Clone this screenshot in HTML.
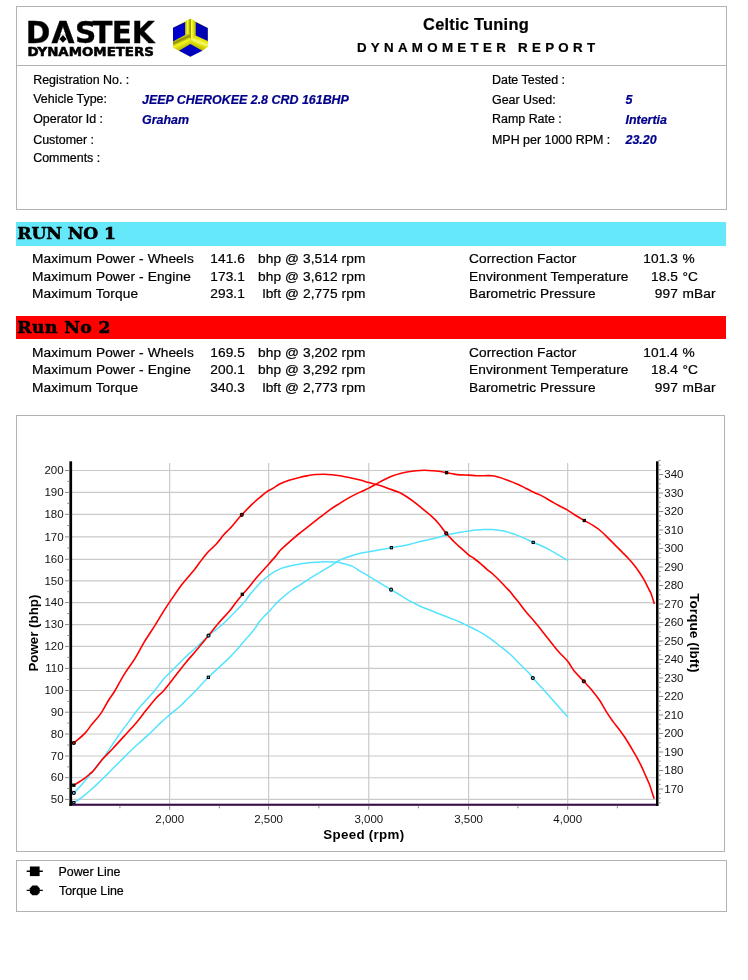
<!DOCTYPE html>
<html lang="en"><head><meta charset="utf-8"><title>Dynamometer Report</title>
<style>
html,body{margin:0;padding:0;background:#fff}
body{width:748px;height:980px;position:relative;overflow:hidden;font-family:"Liberation Sans",Arial,sans-serif;color:#000;-webkit-text-stroke:0.22px currentColor}
.box{position:absolute;box-sizing:border-box;border:1px solid #b2b2b2;background:#fff}
.hline{position:absolute;left:16px;width:711px;height:1px;background:#b2b2b2}
.logo{position:absolute;left:0;top:0}
.t1{position:absolute;left:276px;width:400px;text-align:center;top:15.0px;font-size:16.4px;letter-spacing:0.25px;font-weight:bold;line-height:18px;color:#000;white-space:nowrap}
.t2{position:absolute;left:276px;width:404.3px;text-align:center;top:40.2px;font-size:13.33px;font-weight:bold;line-height:15px;letter-spacing:4.3px;color:#000;white-space:nowrap}
.lab{position:absolute;font-size:12.45px;line-height:14px;white-space:nowrap;color:#000}
.val{position:absolute;font-size:12.45px;line-height:14px;white-space:nowrap;color:#00008b;font-weight:bold;font-style:italic}
.band{position:absolute;left:16px;width:710px;height:23.9px}
.band span{position:absolute;left:1.3px;top:1.2px;font-family:"DejaVu Serif","Liberation Serif",serif;font-weight:bold;font-size:17.2px;line-height:21px;color:#000;white-space:nowrap;letter-spacing:-0.15px;-webkit-text-stroke:0.55px #000}
.row{position:absolute;left:0;width:748px;height:16px;font-size:13.7px;line-height:16px;letter-spacing:0.1px;white-space:nowrap;color:#000}
.row span{position:absolute;top:0}
.c1{left:32px} .c2{right:503px} .c3{right:382.5px} .c4{left:469px} .c5{right:70px} .c6{left:682.5px}
.chart{position:absolute;left:0;top:410px}
.leg{position:absolute;font-size:12.4px;line-height:14px;left:58.5px;white-space:nowrap}
</style></head><body>
<div class="box" style="left:16px;top:6px;width:711px;height:204px"></div>
<div class="hline" style="top:65px"></div>
<svg class="logo" width="230" height="64" viewBox="0 0 230 64">
<defs>
<linearGradient id="gy" x1="0" x2="1" y1="0" y2="0"><stop offset="0" stop-color="#b8b800"/><stop offset="0.25" stop-color="#ffff30"/><stop offset="0.48" stop-color="#8a8a00"/><stop offset="0.6" stop-color="#ffff30"/><stop offset="1" stop-color="#c0c000"/></linearGradient>
<linearGradient id="gl" x1="0" x2="0.45" y1="0" y2="1"><stop offset="0" stop-color="#c8c800"/><stop offset="0.3" stop-color="#ffff30"/><stop offset="0.5" stop-color="#8a8a00"/><stop offset="0.65" stop-color="#f6f620"/><stop offset="1" stop-color="#b0b000"/></linearGradient>
<linearGradient id="gr" x1="1" x2="0.55" y1="0" y2="1"><stop offset="0" stop-color="#b0b000"/><stop offset="0.4" stop-color="#e8e810"/><stop offset="0.55" stop-color="#f8f870"/><stop offset="0.7" stop-color="#dcdc00"/><stop offset="1" stop-color="#a8a800"/></linearGradient>
</defs>
<g font-family="DejaVu Sans, Liberation Sans, sans-serif" font-weight="bold" fill="#000" stroke="#000" stroke-linejoin="round">
<text x="25.8 51.4 75 92.2 111.8 131.8" y="42.6" font-size="29.6" stroke-width="0.35">DASTEK</text>
<text x="27.4" y="56.3" font-size="12.6" stroke-width="0.55" textLength="126.5" lengthAdjust="spacingAndGlyphs">DYNAMOMETERS</text>
</g>
<polygon points="60.7,34.4 65.2,34.4 67.1,39.2 58.8,39.2" fill="#fff"/>
<polygon points="62.95,34.9 66.5,38.9 62.95,42.8 59.4,38.9" fill="#000"/>
<g>
<polygon points="190.4,18.7 207.8,28 207.8,46.8 190.4,56.8 173,47.4 173,27.7" fill="#e4e400"/>
<polygon points="185.3,21.4 190.4,18.7 195.6,21.5 195.6,38 190.4,41 185.3,38" fill="url(#gy)"/>
<polygon points="173,41.4 189.8,32.8 190.4,44.1 179,50.8 173,47.4" fill="url(#gl)"/>
<polygon points="195.7,35.4 207.8,41.1 207.8,46.8 202.4,50.8 190.4,44.1 190.4,38.6" fill="url(#gr)"/>
<polygon points="173,27.7 185.1,21.9 185.1,35.1 173,41.4" fill="#0000cc"/>
<polygon points="195.7,22 207.8,28 207.8,41.1 195.7,35.4" fill="#0000b4"/>
<polygon points="190.4,44.1 202.4,50.8 190.4,56.8 179,50.8" fill="#0000c0"/>
</g>
</svg>
<div class="t1">Celtic Tuning</div>
<div class="t2">DYNAMOMETER REPORT</div>
<div class="lab" style="left:33.2px;top:72.6px">Registration No. :</div>
<div class="lab" style="left:33.2px;top:92.4px">Vehicle Type:</div>
<div class="lab" style="left:33.2px;top:112.2px">Operator Id :</div>
<div class="lab" style="left:33.2px;top:133.1px">Customer :</div>
<div class="lab" style="left:33.2px;top:151.3px">Comments :</div>
<div class="val" style="left:142px;top:93.1px">JEEP CHEROKEE 2.8 CRD 161BHP</div>
<div class="val" style="left:142px;top:113.0px">Graham</div>
<div class="lab" style="left:492px;top:72.8px">Date Tested :</div>
<div class="lab" style="left:492px;top:92.5px">Gear Used:</div>
<div class="lab" style="left:492px;top:112.3px">Ramp Rate :</div>
<div class="lab" style="left:492px;top:133.1px">MPH per 1000 RPM :</div>
<div class="val" style="left:625.5px;top:92.8px">5</div>
<div class="val" style="left:625.5px;top:112.6px">Intertia</div>
<div class="val" style="left:625.5px;top:133.4px">23.20</div>
<div class="band" style="top:222px;background:#66e8fb"><span>RUN NO 1</span></div>
<div class="row" style="top:250.90px"><span class="c1">Maximum Power - Wheels</span><span class="c2">141.6</span><span class="c3">bhp @ 3,514 rpm</span></div>
<div class="row" style="top:268.55px"><span class="c1">Maximum Power - Engine</span><span class="c2">173.1</span><span class="c3">bhp @ 3,612 rpm</span></div>
<div class="row" style="top:286.20px"><span class="c1">Maximum Torque</span><span class="c2">293.1</span><span class="c3">lbft @ 2,775 rpm</span></div>
<div class="row" style="top:250.90px"><span class="c4">Correction Factor</span><span class="c5">101.3</span><span class="c6">%</span></div>
<div class="row" style="top:268.55px"><span class="c4">Environment Temperature</span><span class="c5">18.5</span><span class="c6">°C</span></div>
<div class="row" style="top:286.20px"><span class="c4">Barometric Pressure</span><span class="c5">997</span><span class="c6">mBar</span></div>
<div class="band" style="top:315.6px;background:#ff0000"><span style="letter-spacing:0.4px">Run No 2</span></div>
<div class="row" style="top:344.50px"><span class="c1">Maximum Power - Wheels</span><span class="c2">169.5</span><span class="c3">bhp @ 3,202 rpm</span></div>
<div class="row" style="top:362.15px"><span class="c1">Maximum Power - Engine</span><span class="c2">200.1</span><span class="c3">bhp @ 3,292 rpm</span></div>
<div class="row" style="top:379.80px"><span class="c1">Maximum Torque</span><span class="c2">340.3</span><span class="c3">lbft @ 2,773 rpm</span></div>
<div class="row" style="top:344.50px"><span class="c4">Correction Factor</span><span class="c5">101.4</span><span class="c6">%</span></div>
<div class="row" style="top:362.15px"><span class="c4">Environment Temperature</span><span class="c5">18.4</span><span class="c6">°C</span></div>
<div class="row" style="top:379.80px"><span class="c4">Barometric Pressure</span><span class="c5">997</span><span class="c6">mBar</span></div>
<div class="box" style="left:16px;top:415px;width:709px;height:437px"></div>
<svg class="chart" width="748" height="460" viewBox="0 410 748 460">
<path d="M72,799.40 H656 M72,777.70 H656 M72,756.00 H656 M72,734.00 H656 M72,712.20 H656 M72,690.50 H656 M72,668.40 H656 M72,646.40 H656 M72,624.60 H656 M72,602.60 H656 M72,580.80 H656 M72,559.30 H656 M72,536.90 H656 M72,514.30 H656 M72,492.40 H656 M72,470.50 H656 M169.65,463 V803.5 M268.65,463 V803.5 M368.75,463 V803.5 M468.60,463 V803.5 M567.70,463 V803.5" stroke="#c9c9c9" stroke-width="1.15" fill="none"/>
<path d="M73.8,793.1 C75.2,791.6 79.0,787.7 82.1,784.2 C85.1,780.7 88.6,776.5 92.1,772.2 C95.6,767.9 99.8,762.7 103.1,758.2 C106.4,753.7 109.2,749.3 112.1,745.1 C114.9,740.9 117.4,737.1 120.2,733.1 C123.0,729.1 126.2,725.1 129.2,721.1 C132.2,717.1 135.2,712.7 138.2,709.0 C141.2,705.3 144.4,702.2 147.2,699.0 C150.0,695.8 152.3,693.5 155.2,690.0 C158.0,686.5 161.1,681.9 164.3,678.3 C167.5,674.7 171.0,671.6 174.3,668.3 C177.6,664.9 180.6,661.7 184.3,658.2 C188.0,654.7 192.4,650.9 196.4,647.2 C200.4,643.5 205.2,638.7 208.4,635.8 C211.6,632.9 213.1,632.0 215.7,629.9 C218.2,627.8 221.0,625.7 223.7,623.2 C226.4,620.8 229.0,617.9 231.7,615.2 C234.4,612.5 237.6,609.5 239.8,607.1 C242.0,604.8 243.3,603.3 245.1,601.1 C246.9,598.9 248.7,596.0 250.5,593.8 C252.3,591.6 254.0,589.8 255.8,587.8 C257.6,585.8 259.0,583.9 261.1,581.9 C263.2,579.9 266.4,577.5 268.6,575.8 C270.8,574.1 272.4,572.9 274.5,571.7 C276.6,570.5 279.0,569.3 281.2,568.4 C283.4,567.5 285.2,567.0 287.9,566.4 C290.6,565.8 294.3,565.0 297.2,564.5 C300.1,564.0 302.8,563.6 305.0,563.3 C307.2,563.0 307.8,562.8 310.3,562.6 C312.8,562.4 316.7,562.0 320.0,561.9 C323.3,561.8 327.1,561.8 330.1,561.9 C333.1,562.0 335.4,561.9 338.1,562.3 C340.8,562.7 343.8,563.7 346.1,564.3 C348.4,564.9 349.7,565.0 352.0,566.1 C354.3,567.2 357.3,569.4 360.1,571.1 C362.9,572.8 365.4,574.1 368.7,576.1 C372.0,578.1 376.4,580.8 380.1,583.1 C383.8,585.4 387.8,587.7 391.1,589.7 C394.5,591.7 397.0,593.2 400.2,595.1 C403.4,597.0 406.9,599.4 410.2,601.2 C413.5,603.1 416.9,604.7 420.2,606.2 C423.5,607.7 426.8,608.9 430.2,610.2 C433.6,611.5 436.9,612.9 440.3,614.2 C443.7,615.5 447.0,616.9 450.3,618.2 C453.6,619.5 457.3,620.9 460.3,622.2 C463.3,623.5 465.5,624.7 468.5,626.2 C471.5,627.7 474.8,629.2 478.4,631.2 C482.0,633.2 486.4,635.8 490.0,638.3 C493.6,640.8 496.8,643.6 500.1,646.2 C503.5,648.9 506.8,651.2 510.1,654.2 C513.4,657.2 516.8,660.9 520.1,664.3 C523.5,667.6 528.1,672.0 530.2,674.3 C532.3,676.6 530.8,675.8 532.8,678.1 C534.8,680.4 539.2,684.9 542.1,688.1 C545.0,691.3 547.4,694.1 550.1,697.1 C552.8,700.1 555.2,702.8 558.1,706.1 C561.0,709.4 566.2,715.3 567.8,717.1" stroke="#55e4ff" stroke-width="1.5" fill="none" stroke-linejoin="round"/>
<path d="M73.8,802.9 C74.8,802.2 78.4,799.8 80.1,798.6 C81.8,797.4 82.1,797.2 84.1,795.6 C86.1,794.0 89.4,791.2 92.1,788.8 C94.8,786.4 97.4,783.8 100.1,781.2 C102.8,778.6 106.4,775.0 108.1,773.4 C109.8,771.8 108.1,773.3 110.1,771.3 C112.1,769.3 116.9,764.6 120.2,761.2 C123.5,757.9 126.9,754.4 130.2,751.2 C133.5,748.0 136.9,745.1 140.2,742.1 C143.5,739.1 146.8,736.3 150.2,733.1 C153.5,729.9 157.1,726.1 160.3,723.1 C163.5,720.1 166.0,718.0 169.3,715.1 C172.6,712.2 177.1,708.9 180.3,706.0 C183.5,703.1 185.6,700.7 188.3,698.0 C191.0,695.3 193.1,693.4 196.4,689.9 C199.8,686.4 203.3,682.3 208.4,677.3 C213.5,672.3 222.2,664.7 227.1,659.9 C232.0,655.1 235.1,651.6 238.1,648.3 C241.1,645.0 243.0,642.4 245.1,640.0 C247.2,637.6 248.7,636.0 250.5,633.9 C252.3,631.8 254.5,629.1 255.8,627.2 C257.1,625.4 257.2,624.5 258.5,622.8 C259.8,621.0 262.1,618.5 263.8,616.7 C265.5,614.9 266.8,613.8 268.6,611.9 C270.4,610.0 272.6,607.3 274.5,605.3 C276.4,603.3 278.1,601.6 279.9,599.9 C281.7,598.2 283.2,596.9 285.2,595.2 C287.2,593.6 289.7,591.6 291.9,590.0 C294.1,588.4 296.4,587.2 298.6,585.8 C300.8,584.4 303.1,583.0 305.0,581.7 C306.9,580.4 307.8,579.7 310.3,578.1 C312.9,576.5 317.0,574.1 320.3,572.1 C323.6,570.1 327.0,568.1 330.3,566.1 C333.6,564.1 336.8,561.5 340.1,559.9 C343.4,558.3 346.8,557.4 350.1,556.3 C353.5,555.2 357.1,554.1 360.2,553.3 C363.3,552.5 365.5,552.3 368.8,551.7 C372.1,551.1 376.4,550.4 380.2,549.7 C384.0,549.0 388.0,548.3 391.4,547.7 C394.8,547.1 397.1,546.9 400.3,546.3 C403.5,545.7 407.0,545.0 410.3,544.2 C413.6,543.4 417.0,542.4 420.3,541.6 C423.6,540.8 427.4,539.9 430.3,539.2 C433.2,538.5 435.3,538.1 438.0,537.4 C440.7,536.7 443.6,535.8 446.3,535.1 C449.0,534.5 451.5,534.0 454.1,533.5 C456.7,533.0 459.7,532.5 462.1,532.1 C464.6,531.7 466.6,531.3 468.8,531.0 C471.0,530.7 473.1,530.4 475.5,530.1 C477.9,529.9 481.1,529.6 483.5,529.5 C485.9,529.4 488.0,529.4 490.2,529.5 C492.4,529.6 494.6,529.6 496.8,529.9 C499.0,530.2 501.3,530.6 503.5,531.1 C505.7,531.6 508.0,532.2 510.2,532.9 C512.4,533.6 514.7,534.3 516.9,535.1 C519.1,535.9 521.4,536.9 523.6,537.9 C525.8,538.9 528.4,540.2 530.0,541.0 C531.6,541.8 531.2,541.5 533.2,542.4 C535.2,543.3 539.4,545.0 542.3,546.3 C545.1,547.6 547.6,548.9 550.3,550.3 C553.0,551.7 555.4,553.2 558.3,554.9 C561.2,556.6 566.0,559.4 567.6,560.3" stroke="#55e4ff" stroke-width="1.5" fill="none" stroke-linejoin="round"/>
<path d="M73.8,743.1 C75.7,741.4 82.0,736.3 85.1,733.1 C88.1,729.9 89.4,727.4 92.1,724.1 C94.8,720.8 98.4,717.0 101.1,713.1 C103.8,709.2 105.8,704.8 108.1,701.0 C110.4,697.2 112.4,695.0 115.1,690.5 C117.8,686.0 120.9,679.7 124.2,674.3 C127.5,668.9 131.9,663.6 135.2,658.2 C138.5,652.9 140.9,647.7 144.2,642.2 C147.5,636.7 151.8,630.5 155.2,625.1 C158.5,619.8 161.5,614.6 164.3,610.1 C167.2,605.6 169.3,602.5 172.3,598.1 C175.3,593.8 178.7,588.7 182.3,584.0 C186.0,579.3 191.2,573.6 194.2,570.0 C197.1,566.4 198.0,564.7 200.0,562.1 C202.0,559.5 204.4,556.3 206.1,554.3 C207.8,552.3 208.3,551.7 210.0,550.0 C211.7,548.3 213.7,546.8 216.1,544.2 C218.5,541.6 221.8,536.9 224.2,534.2 C226.5,531.5 227.3,531.4 230.2,528.2 C233.1,525.0 238.1,518.8 241.8,514.8 C245.5,510.8 249.1,507.1 252.2,504.1 C255.3,501.2 257.9,499.1 260.3,497.1 C262.7,495.1 264.1,493.6 266.3,492.1 C268.5,490.6 271.0,489.5 273.3,488.1 C275.6,486.7 277.8,485.0 280.3,483.7 C282.8,482.4 285.3,481.5 288.3,480.5 C291.3,479.5 295.1,478.5 298.4,477.7 C301.7,476.9 305.3,476.1 308.2,475.6 C311.1,475.1 313.4,474.7 316.0,474.5 C318.6,474.3 321.4,474.3 324.1,474.3 C326.8,474.3 329.4,474.5 332.1,474.7 C334.8,474.9 337.1,475.2 340.1,475.7 C343.1,476.2 346.8,477.0 350.1,477.7 C353.5,478.4 357.1,479.3 360.2,480.1 C363.3,480.9 365.8,481.7 368.8,482.5 C371.8,483.3 375.0,484.1 378.2,485.1 C381.4,486.1 384.8,487.3 388.2,488.5 C391.6,489.7 395.3,490.8 398.3,492.1 C401.3,493.4 403.6,494.8 406.3,496.5 C409.0,498.2 411.6,500.1 414.3,502.1 C417.0,504.1 419.6,506.4 422.3,508.6 C425.0,510.8 427.6,512.8 430.3,515.2 C433.0,517.6 435.7,520.1 438.4,523.2 C441.1,526.3 443.7,530.5 446.3,533.6 C448.9,536.7 451.5,539.2 454.1,541.8 C456.7,544.4 459.7,546.9 462.1,549.1 C464.6,551.3 466.8,553.5 468.8,555.1 C470.8,556.7 472.1,557.0 474.1,558.5 C476.1,560.0 478.8,562.1 480.8,563.8 C482.8,565.5 484.1,566.9 486.1,568.6 C488.1,570.3 490.6,572.0 492.8,574.0 C495.0,576.0 497.5,578.5 499.5,580.5 C501.5,582.5 503.1,584.4 504.9,586.3 C506.7,588.2 508.4,589.7 510.2,591.7 C512.0,593.8 514.3,597.0 515.6,598.6 C516.9,600.2 516.4,599.4 518.1,601.6 C519.9,603.9 523.4,608.8 526.1,612.1 C528.8,615.4 531.5,618.0 534.2,621.2 C536.9,624.4 539.5,627.9 542.2,631.2 C544.9,634.5 547.5,637.9 550.2,641.2 C552.9,644.5 555.3,647.9 558.2,651.2 C561.1,654.6 565.0,658.0 567.7,661.3 C570.4,664.6 571.5,667.7 574.2,671.0 C576.9,674.3 580.9,678.1 583.8,681.3 C586.7,684.5 589.2,686.9 591.8,690.1 C594.4,693.3 597.2,696.7 599.6,700.3 C602.0,703.9 604.0,708.0 606.3,711.6 C608.5,715.2 611.0,718.6 613.1,721.6 C615.2,724.6 617.4,727.0 619.2,729.4 C621.0,731.8 622.5,733.8 624.1,736.2 C625.7,738.6 627.4,741.3 629.0,744.0 C630.6,746.7 632.5,749.9 633.9,752.3 C635.3,754.7 636.4,756.5 637.5,758.6 C638.6,760.7 639.6,762.5 640.6,764.6 C641.6,766.7 642.7,769.0 643.7,771.3 C644.7,773.5 645.7,775.8 646.7,778.1 C647.7,780.4 648.9,782.8 649.8,785.2 C650.7,787.7 651.5,790.5 652.2,792.8 C652.9,795.1 653.9,797.8 654.2,798.8" stroke="#ff0000" stroke-width="1.6" fill="none" stroke-linejoin="round"/>
<path d="M73.8,785.3 C74.8,784.6 78.2,782.5 80.1,781.3 C82.0,780.0 83.6,779.0 85.2,777.8 C86.8,776.6 88.3,775.3 89.7,774.0 C91.1,772.7 91.6,772.8 93.8,770.2 C96.0,767.6 99.9,762.3 103.1,758.6 C106.3,754.9 109.6,752.0 113.1,748.2 C116.6,744.5 120.5,740.1 124.2,736.1 C127.9,732.1 131.5,728.4 135.2,724.1 C138.9,719.8 142.7,714.5 146.2,710.1 C149.7,705.8 153.2,701.4 156.2,698.0 C159.2,694.6 161.3,693.4 164.3,689.9 C167.3,686.4 170.8,681.8 174.3,677.3 C177.8,672.8 181.6,667.7 185.3,663.2 C189.0,658.7 192.6,654.8 196.4,650.2 C200.2,645.6 204.7,640.3 208.4,635.8 C212.1,631.3 215.0,627.2 218.4,623.2 C221.8,619.2 226.2,615.0 229.1,611.6 C232.0,608.2 233.5,605.7 235.7,602.8 C237.9,599.9 240.0,597.3 242.5,594.4 C245.0,591.5 248.3,588.0 250.5,585.3 C252.7,582.6 253.8,580.8 255.8,578.4 C257.8,576.0 260.4,573.4 262.5,571.0 C264.6,568.6 266.3,566.8 268.6,564.2 C270.9,561.6 274.2,557.9 276.2,555.6 C278.1,553.3 278.8,552.0 280.3,550.3 C281.8,548.6 283.6,547.1 285.3,545.6 C287.0,544.1 288.6,542.7 290.3,541.2 C292.0,539.7 293.7,538.2 295.3,536.8 C296.9,535.4 297.8,534.7 300.2,532.8 C302.6,530.9 306.7,527.8 310.0,525.2 C313.3,522.6 316.8,519.8 320.1,517.2 C323.5,514.6 326.8,512.0 330.1,509.6 C333.4,507.2 336.8,505.2 340.1,503.1 C343.4,501.0 346.8,498.9 350.1,497.1 C353.5,495.3 357.1,493.6 360.2,492.1 C363.3,490.6 366.1,489.4 368.8,488.1 C371.5,486.8 373.6,485.5 376.2,484.1 C378.8,482.7 381.5,481.0 384.2,479.7 C386.9,478.4 389.5,477.1 392.2,476.1 C394.9,475.1 397.6,474.2 400.3,473.5 C403.0,472.8 405.6,472.2 408.3,471.7 C411.0,471.2 413.6,470.9 416.3,470.7 C419.0,470.5 421.6,470.3 424.3,470.3 C427.0,470.3 429.6,470.5 432.3,470.7 C435.0,470.9 438.0,471.2 440.4,471.5 C442.8,471.8 444.3,472.3 446.6,472.7 C448.9,473.1 451.8,473.7 454.0,474.1 C456.2,474.5 457.7,474.7 460.1,474.9 C462.6,475.1 466.0,475.0 468.7,475.1 C471.4,475.2 473.5,475.6 476.1,475.7 C478.7,475.8 481.4,475.7 484.1,475.7 C486.8,475.7 489.8,475.5 492.1,475.7 C494.5,475.9 495.5,476.3 498.2,477.1 C500.9,477.9 504.9,479.3 508.2,480.5 C511.5,481.7 515.2,483.2 518.2,484.5 C521.2,485.8 523.5,487.2 526.2,488.5 C528.9,489.8 531.5,491.2 534.2,492.5 C536.9,493.8 539.6,494.7 542.3,496.1 C545.0,497.5 547.6,499.2 550.3,500.7 C553.0,502.2 555.4,503.7 558.3,505.3 C561.2,506.9 564.6,508.4 567.6,510.1 C570.6,511.9 573.4,514.1 576.2,515.8 C579.0,517.5 581.3,518.8 584.3,520.5 C587.3,522.2 591.5,524.4 594.1,526.1 C596.8,527.8 598.2,528.8 600.2,530.5 C602.2,532.2 603.9,533.8 606.2,536.1 C608.5,538.4 611.5,541.4 614.2,544.1 C616.9,546.8 619.9,549.8 622.2,552.1 C624.5,554.5 626.2,556.0 628.2,558.2 C630.2,560.4 632.4,562.9 634.2,565.2 C636.1,567.5 637.6,569.7 639.3,572.2 C641.0,574.7 642.8,577.5 644.3,580.2 C645.8,582.9 647.1,585.9 648.3,588.2 C649.5,590.5 650.3,591.6 651.3,594.2 C652.3,596.8 653.8,602.3 654.3,603.9" stroke="#ff0000" stroke-width="1.6" fill="none" stroke-linejoin="round"/>
<rect x="72.7" y="801.5" width="2.2" height="2.2" fill="#55e4ff" stroke="#000" stroke-width="1.1"/>
<rect x="207.3" y="676.2" width="2.2" height="2.2" fill="#55e4ff" stroke="#000" stroke-width="1.1"/>
<rect x="390.3" y="546.6" width="2.2" height="2.2" fill="#55e4ff" stroke="#000" stroke-width="1.1"/>
<rect x="532.1" y="541.3" width="2.2" height="2.2" fill="#55e4ff" stroke="#000" stroke-width="1.1"/>
<rect x="72.7" y="784.1" width="2.2" height="2.2" fill="#400" stroke="#000" stroke-width="1.1"/>
<rect x="241.2" y="593.2" width="2.2" height="2.2" fill="#400" stroke="#000" stroke-width="1.1"/>
<rect x="445.5" y="471.6" width="2.2" height="2.2" fill="#400" stroke="#000" stroke-width="1.1"/>
<rect x="583.2" y="519.4" width="2.2" height="2.2" fill="#400" stroke="#000" stroke-width="1.1"/>
<circle cx="73.8" cy="792.9" r="1.5" fill="#55e4ff" stroke="#000" stroke-width="1.2"/>
<circle cx="208.5" cy="635.6" r="1.5" fill="#55e4ff" stroke="#000" stroke-width="1.2"/>
<circle cx="391.1" cy="589.7" r="1.5" fill="#55e4ff" stroke="#000" stroke-width="1.2"/>
<circle cx="532.8" cy="678.1" r="1.5" fill="#55e4ff" stroke="#000" stroke-width="1.2"/>
<circle cx="73.8" cy="743.0" r="1.5" fill="#ff0000" stroke="#000" stroke-width="1.2"/>
<circle cx="241.8" cy="514.8" r="1.5" fill="#ff0000" stroke="#000" stroke-width="1.2"/>
<circle cx="446.3" cy="533.4" r="1.5" fill="#ff0000" stroke="#000" stroke-width="1.2"/>
<circle cx="583.8" cy="681.3" r="1.5" fill="#ff0000" stroke="#000" stroke-width="1.2"/>
<rect x="69.4" y="803.7" width="588.8" height="2.1" fill="#3a0a45"/>
<rect x="69.4" y="461.3" width="2.7" height="344.6" fill="#000"/>
<rect x="656" y="461.3" width="2.5" height="344.6" fill="#000"/>
<path d="M65,799.4 H69.5 M67.3,788.5 H69.5 M65,777.7 H69.5 M67.3,766.9 H69.5 M65,756.0 H69.5 M67.3,745.0 H69.5 M65,734.0 H69.5 M67.3,723.1 H69.5 M65,712.2 H69.5 M67.3,701.4 H69.5 M65,690.5 H69.5 M67.3,679.5 H69.5 M65,668.4 H69.5 M67.3,657.4 H69.5 M65,646.4 H69.5 M67.3,635.5 H69.5 M65,624.6 H69.5 M67.3,613.6 H69.5 M65,602.6 H69.5 M67.3,591.7 H69.5 M65,580.8 H69.5 M67.3,570.0 H69.5 M65,559.3 H69.5 M67.3,548.1 H69.5 M65,536.9 H69.5 M67.3,525.6 H69.5 M65,514.3 H69.5 M67.3,503.3 H69.5 M65,492.4 H69.5 M67.3,481.4 H69.5 M65,470.5 H69.5 M658.4,802.9 H660.6 M658.4,798.2 H660.6 M658.4,793.6 H660.6 M658.4,789.0 H663.2 M658.4,784.4 H660.6 M658.4,779.8 H660.6 M658.4,775.1 H660.6 M658.4,770.5 H663.2 M658.4,765.9 H660.6 M658.4,761.2 H660.6 M658.4,756.6 H660.6 M658.4,752.0 H663.2 M658.4,747.4 H660.6 M658.4,742.8 H660.6 M658.4,738.1 H660.6 M658.4,733.5 H663.2 M658.4,728.9 H660.6 M658.4,724.2 H660.6 M658.4,719.6 H660.6 M658.4,715.0 H663.2 M658.4,710.4 H660.6 M658.4,705.8 H660.6 M658.4,701.1 H660.6 M658.4,696.5 H663.2 M658.4,691.9 H660.6 M658.4,687.2 H660.6 M658.4,682.6 H660.6 M658.4,678.0 H663.2 M658.4,673.4 H660.6 M658.4,668.8 H660.6 M658.4,664.1 H660.6 M658.4,659.5 H663.2 M658.4,654.9 H660.6 M658.4,650.2 H660.6 M658.4,645.6 H660.6 M658.4,641.0 H663.2 M658.4,636.4 H660.6 M658.4,631.8 H660.6 M658.4,627.1 H660.6 M658.4,622.5 H663.2 M658.4,617.9 H660.6 M658.4,613.2 H660.6 M658.4,608.6 H660.6 M658.4,604.0 H663.2 M658.4,599.4 H660.6 M658.4,594.8 H660.6 M658.4,590.1 H660.6 M658.4,585.5 H663.2 M658.4,580.9 H660.6 M658.4,576.2 H660.6 M658.4,571.6 H660.6 M658.4,567.0 H663.2 M658.4,562.4 H660.6 M658.4,557.8 H660.6 M658.4,553.1 H660.6 M658.4,548.5 H663.2 M658.4,543.9 H660.6 M658.4,539.2 H660.6 M658.4,534.6 H660.6 M658.4,530.0 H663.2 M658.4,525.4 H660.6 M658.4,520.8 H660.6 M658.4,516.1 H660.6 M658.4,511.5 H663.2 M658.4,506.9 H660.6 M658.4,502.2 H660.6 M658.4,497.6 H660.6 M658.4,493.0 H663.2 M658.4,488.4 H660.6 M658.4,483.8 H660.6 M658.4,479.1 H660.6 M658.4,474.5 H663.2 M658.4,469.9 H660.6 M658.4,465.2 H660.6 M658.4,460.6 H660.6" stroke="#8a8a8a" stroke-width="1" fill="none"/>
<path d="M119.9,805.8 V808.3 M169.7,805.8 V809.8 M219.4,805.8 V808.3 M268.6,805.8 V809.8 M318.9,805.8 V808.3 M368.8,805.8 V809.8 M418.4,805.8 V808.3 M468.6,805.8 V809.8 M517.9,805.8 V808.3 M567.7,805.8 V809.8 M617.4,805.8 V808.3" stroke="#8a8a8a" stroke-width="1" fill="none"/>
<g font-family="Liberation Sans, Arial, sans-serif" font-size="11.5" fill="#111">
<text x="63.6" y="803.1" text-anchor="end">50</text>
<text x="63.6" y="781.4" text-anchor="end">60</text>
<text x="63.6" y="759.7" text-anchor="end">70</text>
<text x="63.6" y="737.7" text-anchor="end">80</text>
<text x="63.6" y="715.9" text-anchor="end">90</text>
<text x="63.6" y="694.2" text-anchor="end">100</text>
<text x="63.6" y="672.1" text-anchor="end">110</text>
<text x="63.6" y="650.1" text-anchor="end">120</text>
<text x="63.6" y="628.3" text-anchor="end">130</text>
<text x="63.6" y="606.3" text-anchor="end">140</text>
<text x="63.6" y="584.5" text-anchor="end">150</text>
<text x="63.6" y="563.0" text-anchor="end">160</text>
<text x="63.6" y="540.6" text-anchor="end">170</text>
<text x="63.6" y="518.0" text-anchor="end">180</text>
<text x="63.6" y="496.1" text-anchor="end">190</text>
<text x="63.6" y="474.2" text-anchor="end">200</text>
<text x="664.3" y="792.7">170</text>
<text x="664.3" y="774.2">180</text>
<text x="664.3" y="755.7">190</text>
<text x="664.3" y="737.2">200</text>
<text x="664.3" y="718.7">210</text>
<text x="664.3" y="700.2">220</text>
<text x="664.3" y="681.7">230</text>
<text x="664.3" y="663.2">240</text>
<text x="664.3" y="644.7">250</text>
<text x="664.3" y="626.2">260</text>
<text x="664.3" y="607.7">270</text>
<text x="664.3" y="589.2">280</text>
<text x="664.3" y="570.7">290</text>
<text x="664.3" y="552.2">300</text>
<text x="664.3" y="533.7">310</text>
<text x="664.3" y="515.2">320</text>
<text x="664.3" y="496.7">330</text>
<text x="664.3" y="478.2">340</text>
<text x="169.7" y="822.6" text-anchor="middle">2,000</text>
<text x="268.6" y="822.6" text-anchor="middle">2,500</text>
<text x="368.8" y="822.6" text-anchor="middle">3,000</text>
<text x="468.6" y="822.6" text-anchor="middle">3,500</text>
<text x="567.7" y="822.6" text-anchor="middle">4,000</text>
</g>
<g font-family="Liberation Sans, Arial, sans-serif" font-size="13.33" font-weight="bold" fill="#000">
<text x="363.9" y="839.2" text-anchor="middle" letter-spacing="0.3">Speed (rpm)</text>
<text transform="translate(38,633.1) rotate(-90)" text-anchor="middle">Power (bhp)</text>
<text transform="translate(689.8,632.8) rotate(90)" text-anchor="middle" font-size="13.65">Torque (lbft)</text>
</g>
</svg>
<div class="box" style="left:16px;top:860px;width:711px;height:52px"></div>
<svg style="position:absolute;left:0;top:860px" width="60" height="52" viewBox="0 860 60 52">
<path d="M26.7,871.3 H42.8 M26.7,890.4 H42.8" stroke="#000" stroke-width="1.4"/>
<rect x="29.9" y="866.5" width="9.7" height="9.6" fill="#000"/>
<polygon points="32.4,885.6 37.2,885.6 39.7,888.2 39.7,892.8 37.2,895.3 32.4,895.3 29.9,892.8 29.9,888.2" fill="#000"/>
</svg>
<div class="leg" style="top:864.6px">Power Line</div>
<div class="leg" style="top:883.7px;left:59px">Torque Line</div>
</body></html>
